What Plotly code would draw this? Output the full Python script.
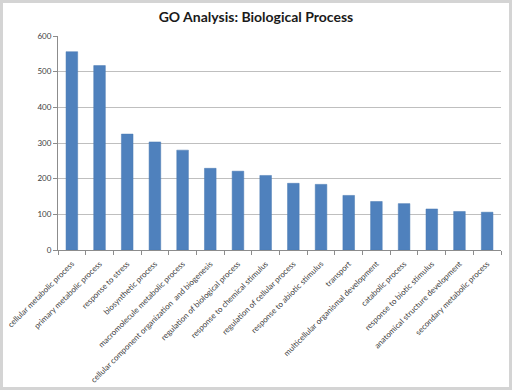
import plotly.graph_objects as go

categories = [
    "cellular metabolic process",
    "primary metabolic process",
    "response to stress",
    "biosynthetic process",
    "macromolecule metabolic process",
    "cellular component organization  and biogenesis",
    "regulation of biological process",
    "response to chemical stimulus",
    "regulation of cellular process",
    "response to abiotic stimulus",
    "transport",
    "multicellular organismal development",
    "catabolic process",
    "response to biotic stimulus",
    "anatomical structure development",
    "secondary metabolic process",
]
values = [556, 517, 325, 303, 280, 229, 221, 209, 187, 184, 153, 136, 130, 115, 108, 106]
y_ticks = [0, 100, 200, 300, 400, 500, 600]

W, H = 512, 390
ml, mr, mt, mb = 58, 11, 36, 140
pw, ph = W - ml - mr, H - mt - mb

fig = go.Figure(go.Bar(
    x=categories, y=values,
    marker=dict(color="#4f81bd", line=dict(color="#4a7ab3", width=0.5)),
    width=0.42,
))

fig.update_layout(
    width=W, height=H,
    margin=dict(l=ml, r=mr, t=mt, b=mb, autoexpand=False),
    paper_bgcolor="white", plot_bgcolor="white",
    font=dict(family="Lato, Liberation Sans, sans-serif", color="#404040"),
    title=dict(text="<b>GO Analysis: Biological Process</b>", x=0.5, xanchor="center",
               y=1 - 17 / H, yanchor="middle",
               font=dict(size=14, color="#1a1a1a", family="Lato, sans-serif")),
    showlegend=False,
)
fig.update_xaxes(
    automargin=False,
    tickangle=-45, tickfont=dict(size=8, color="#404040"),
    ticklabelstandoff=5,
    showline=True, linecolor="#8c8c8c", linewidth=1,
    ticks="outside", tickson="boundaries", ticklen=4, tickcolor="#8c8c8c",
    showgrid=False,
)
fig.update_yaxes(
    automargin=False,
    range=[0, 600], tickvals=y_ticks, tickfont=dict(size=8, color="#404040"),
    showline=True, linecolor="#8c8c8c", linewidth=1,
    ticks="outside", ticklen=4, tickcolor="#8c8c8c",
    showgrid=True, gridcolor="#bfbfbf", gridwidth=1, zeroline=False,
)
# outer gray frame
fig.add_shape(type="rect", xref="paper", yref="paper", layer="above",
              x0=(-ml + 1.5) / pw, x1=1 + (mr - 1.5) / pw,
              y0=(-mb + 1.5) / ph, y1=1 + (mt - 1.5) / ph,
              line=dict(color="#d4d4d4", width=3))

fig.write_html("out.html", config={"displayModeBar": False},
               post_script="document.body.style.margin='0';document.body.style.overflow='hidden';")
